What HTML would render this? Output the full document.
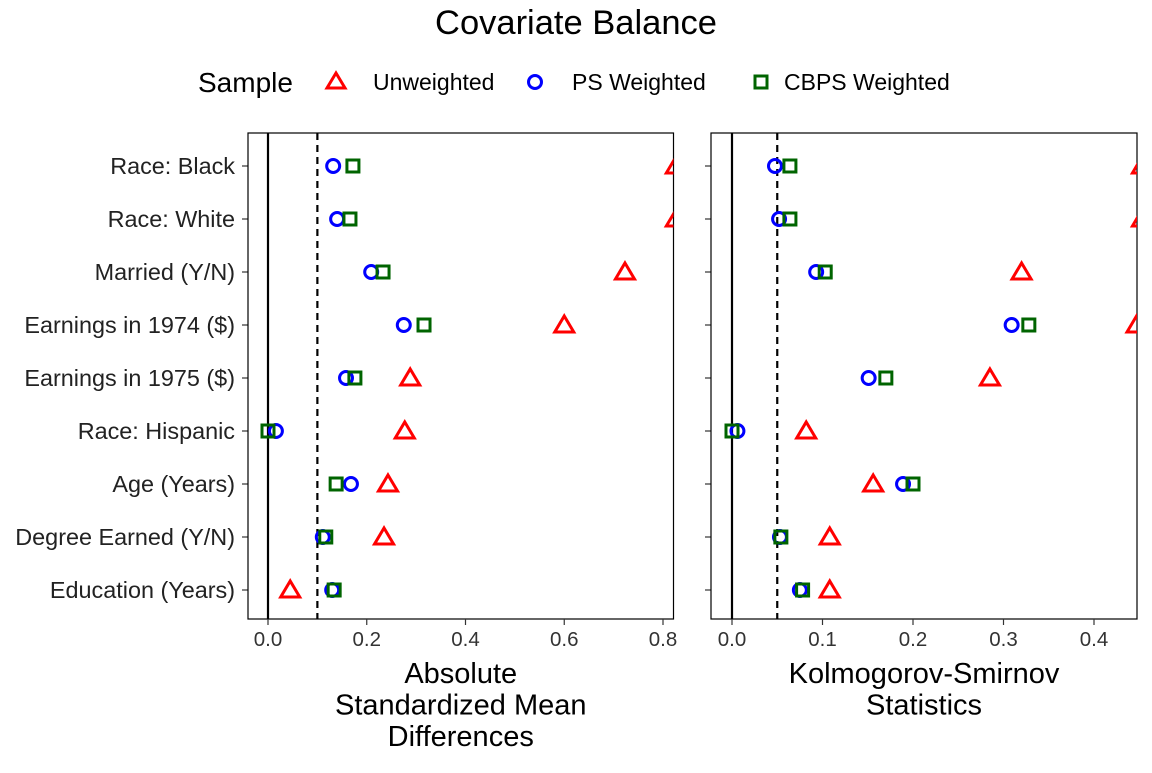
<!DOCTYPE html>
<html><head><meta charset="utf-8"><style>
body{margin:0;background:#fff;font-family:"Liberation Sans",Arial,sans-serif}
svg text{font-family:"Liberation Sans",Arial,sans-serif}
</style></head><body>
<svg id="c" width="1152" height="768" xmlns="http://www.w3.org/2000/svg">
<defs>
<clipPath id="cp1"><rect x="248" y="133" width="425.5" height="486"/></clipPath>
<clipPath id="cp2"><rect x="711" y="133" width="426" height="486"/></clipPath>
</defs>
<text x="576" y="34" font-size="34.5" text-anchor="middle">Covariate Balance</text>
<g font-size="23">
<text x="198" y="92" font-size="28">Sample</text>
<g><path d="M336,73 L345,88 L327,88 Z" fill="none" stroke="#f00" stroke-width="3"/><text x="373" y="90">Unweighted</text></g>
<g><circle cx="535" cy="82" r="6.5" fill="none" stroke="#00f" stroke-width="3"/><text x="572" y="90">PS Weighted</text></g>
<g><rect x="755" y="76" width="12" height="12" fill="none" stroke="#006400" stroke-width="3"/><text x="784" y="90">CBPS Weighted</text></g>
</g>
<g id="plot"></g>
</svg>
<script>
const categories=["Race: Black","Race: White","Married (Y/N)","Earnings in 1974 ($)","Earnings in 1975 ($)","Race: Hispanic","Age (Years)","Degree Earned (Y/N)","Education (Years)"];
const smdUnw=[0.826,0.826,0.723,0.600,0.288,0.277,0.243,0.235,0.045];
const smdPS=[0.132,0.140,0.209,0.275,0.158,0.016,0.168,0.111,0.130];
const smdCBPS=[0.172,0.166,0.233,0.316,0.176,0.000,0.138,0.117,0.134];
const ksUnw=[0.453,0.453,0.320,0.447,0.285,0.082,0.156,0.108,0.108];
const ksPS=[0.0475,0.052,0.093,0.309,0.151,0.006,0.189,0.053,0.075];
const ksCBPS=[0.064,0.064,0.103,0.328,0.170,0.000,0.200,0.054,0.078];
const ticks1=[0,0.2,0.4,0.6,0.8], ticks1Lab=["0.0","0.2","0.4","0.6","0.8"];
const ticks2=[0,0.1,0.2,0.3,0.4], ticks2Lab=["0.0","0.1","0.2","0.3","0.4"];
const NS="http://www.w3.org/2000/svg";
const g=document.getElementById('plot');
function mk(t,a,p){const e=document.createElementNS(NS,t);for(const k in a)e.setAttribute(k,a[k]);(p||g).appendChild(e);return e;}
const yRow=i=>166+i*53;
function panel(id,x0,x1,xz,scale,thr,tk,tl,title,clip,u,ps,cb){
  const sx=v=>xz+v*scale;
  const pg=mk('g',{});
  
  
  const r=mk('rect',{x:x0,y:133,width:x1-x0,height:486,fill:'#fff',stroke:'#000','stroke-width':1.2},pg);
  
  
  const z=mk('line',{x1:sx(0),x2:sx(0),y1:133,y2:619,stroke:'#000','stroke-width':2.2},pg);
  
  
  const d=mk('line',{x1:sx(thr),x2:sx(thr),y1:133,y2:619,stroke:'#000','stroke-width':2.2,'stroke-dasharray':'7,5'},pg);
  
  
  tk.forEach((v,i)=>{
    mk('line',{x1:sx(v),x2:sx(v),y1:619,y2:625,stroke:'#333','stroke-width':1.2},pg);
    const t=mk('text',{x:sx(v),y:646,'font-size':20.5,'text-anchor':'middle',fill:'#333'},pg);
    t.textContent=tl[i];
    
    
  });
  title.forEach((s,i)=>{
    const t=mk('text',{x:(x0+x1)/2,y:683+i*31.5,'font-size':29,'text-anchor':'middle'},pg);
    t.textContent=s;
    
    
  });
  const mg=mk('g',{'clip-path':'url(#'+clip+')'},pg);
  categories.forEach((c,i)=>{
    const y=yRow(i);
    const tr=mk('path',{d:`M${sx(u[i])},${y-9} L${sx(u[i])+9.5},${y+7} L${sx(u[i])-9.5},${y+7} Z`,fill:'none',stroke:'#f00','stroke-width':3},mg);
    
    
    const ci=mk('circle',{cx:sx(ps[i]),cy:y,r:6.5,fill:'none',stroke:'#00f','stroke-width':3},mg);
    
    
    const sq=mk('rect',{x:sx(cb[i])-6,y:y-6,width:12,height:12,fill:'none',stroke:'#006400','stroke-width':3},mg);
    
    
  });
}
categories.forEach((c,i)=>{
  const y=yRow(i);
  mk('line',{x1:242,x2:248,y1:y,y2:y,stroke:'#333','stroke-width':1.2});
  mk('line',{x1:705,x2:711,y1:y,y2:y,stroke:'#333','stroke-width':1.2});
  const t=mk('text',{x:235,y:y+8,'font-size':23.4,'text-anchor':'end',fill:'#222'});
  t.textContent=c;
  
  
});
panel('panel-smd',248,673.5,268,493.75,0.1,ticks1,ticks1Lab,["Absolute","Standardized Mean","Differences"],'cp1',smdUnw,smdPS,smdCBPS);
panel('panel-ks',711,1137,732,905,0.05,ticks2,ticks2Lab,["Kolmogorov-Smirnov","Statistics"],'cp2',ksUnw,ksPS,ksCBPS);
</script>
</body></html>
